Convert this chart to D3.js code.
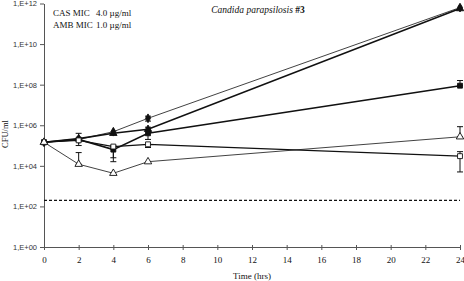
<!DOCTYPE html>
<html>
<head>
<meta charset="UTF-8">
<script src="https://cdn.jsdelivr.net/npm/d3@7"></script>
<style>
  body { margin: 0; background: #fff; }
  .serif { font-family: 'Liberation Serif', 'DejaVu Serif', serif; fill: #111; }
  .ylab { font-family: 'Liberation Sans', sans-serif; font-size: 7.5px; fill: #333; }
</style>
</head>
<body>
<div id="grafico"></div>
<script>
// time points (hrs)
var horas = [0, 2, 4, 6, 24];
var xTicks = [0, 2, 4, 6, 8, 10, 12, 14, 16, 18, 20, 22, 24];
var yTicks = [1, 1e2, 1e4, 1e6, 1e8, 1e10, 1e12];
var yTickLabels = ["1,E+00", "1,E+02", "1,E+04", "1,E+06", "1,E+08", "1,E+10", "1,E+12"];

// CFU/ml per series
var diamante = [1.45e5, 2.0e5, 4.8e5, 2.2e6, 6.3e11];
var triangulo = [1.45e5, 2.2e5, 4.0e5, 6.3e5, 5.6e11];
var cuadrado = [1.45e5, 2.0e5, 6.3e4, 4.0e5, 8.9e7];
var cuadradoAbierto = [1.45e5, 1.8e5, 8.9e4, 1.15e5, 3.0e4];
var trianguloAbierto = [1.45e5, 1.2e4, 4.3e3, 1.6e4, 2.7e5];

// error bars [low, high] (null = none)
var errDiamante = [null, null, null, [1.6e6, 2.8e6], null];
var errTriangulo = [null, [1.0e5, 4.0e5], null, null, null];
var errCuadrado = [null, null, [1.6e4, 1.0e5], [2.0e5, 8.0e5], [8.9e7, 1.6e8]];
var errCuadradoAbierto = [null, null, [2.5e4, 8.9e4], [8.0e4, 1.15e5], [5.0e3, 5.0e4]];
var errTrianguloAbierto = [null, [1.2e4, 4.5e4], null, null, [2.7e5, 8.5e5]];

var limite = 2.0e2;

var w = 464, h = 281;
var xScale = d3.scaleLinear().domain([0, 24]).range([44, 460]);
var yScale = d3.scaleLog().domain([1, 1e12]).range([247, 3.5]);

var svg = d3.select("#grafico").append("svg")
    .attr("width", w).attr("height", h);

// axes
var ejeX = svg.append("g").attr("transform", "translate(0,247)")
    .call(d3.axisBottom(xScale).tickValues(xTicks).tickSize(3).tickSizeOuter(0));
ejeX.selectAll("text").attr("class", "serif").attr("font-size", 9).attr("dy", "1.1em");
ejeX.selectAll(".tick line").attr("y1", -2).attr("stroke", "#555");
ejeX.select(".domain").attr("stroke", "#555");

var ejeY = svg.append("g").attr("transform", "translate(44,0)")
    .call(d3.axisLeft(yScale).tickValues(yTicks).tickSize(4).tickSizeOuter(0)
        .tickFormat(function(d, i){ return yTickLabels[i]; }));
ejeY.selectAll("text").attr("class", "ylab").attr("x", -7);
ejeY.selectAll(".tick line").attr("stroke", "#555");
ejeY.select(".domain").attr("stroke", "#555");

// detection limit
svg.append("line")
    .attr("x1", xScale(0)).attr("x2", xScale(24))
    .attr("y1", yScale(limite)).attr("y2", yScale(limite))
    .attr("stroke", "#111").attr("stroke-width", 1.2).attr("stroke-dasharray", "3,2");

var series = [
    {v: diamante, e: errDiamante, m: "diamond", fill: "#111", sw: 0.8},
    {v: triangulo, e: errTriangulo, m: "triangle", fill: "#111", sw: 1.6},
    {v: cuadrado, e: errCuadrado, m: "square", fill: "#111", sw: 1.6},
    {v: cuadradoAbierto, e: errCuadradoAbierto, m: "square", fill: "#fff", sw: 1.2},
    {v: trianguloAbierto, e: errTrianguloAbierto, m: "triangle", fill: "#fff", sw: 0.8}
];

var linea = d3.line()
    .x(function(d, i){ return xScale(horas[i]); })
    .y(function(d){ return yScale(d); });

var simbolos = {diamond: d3.symbolDiamond, triangle: d3.symbolTriangle, square: d3.symbolSquare};

series.forEach(function(s){
    svg.append("path").datum(s.v)
        .attr("d", linea).attr("fill", "none")
        .attr("stroke", "#111").attr("stroke-width", s.sw);
});

series.forEach(function(s){
    var g = svg.append("g");
    s.e.forEach(function(e, i){
        if (!e) return;
        var x = xScale(horas[i]);
        g.append("line").attr("x1", x).attr("x2", x)
            .attr("y1", yScale(e[0])).attr("y2", yScale(e[1]))
            .attr("stroke", "#111").attr("stroke-width", 1);
        [e[0], e[1]].forEach(function(v){
            g.append("line").attr("x1", x - 3).attr("x2", x + 3)
                .attr("y1", yScale(v)).attr("y2", yScale(v))
                .attr("stroke", "#111").attr("stroke-width", 1);
        });
    });
    g.selectAll("path").data(s.v).enter().append("path")
        .attr("d", d3.symbol().type(simbolos[s.m]).size(s.m == "diamond" ? 22 : 24))
        .attr("transform", function(d, i){ return "translate(" + xScale(horas[i]) + "," + yScale(d) + ")"; })
        .attr("fill", s.fill).attr("stroke", "#111").attr("stroke-width", 0.9);
});

// texts
svg.append("text").attr("class", "serif").attr("font-size", 8.5)
    .attr("transform", "translate(8,134) rotate(-90)").attr("text-anchor", "middle")
    .text("CFU/ml");
svg.append("text").attr("class", "serif").attr("font-size", 9)
    .attr("x", 252).attr("y", 279).attr("text-anchor", "middle").text("Time (hrs)");

var titulo = svg.append("text").attr("class", "serif").attr("font-size", 9.5)
    .attr("x", 258).attr("y", 13).attr("text-anchor", "middle");
titulo.append("tspan").attr("font-style", "italic").text("Candida parapsilosis");
titulo.append("tspan").attr("font-weight", "bold").text("  #3");

var leyenda = [["CAS MIC", "4.0 \u00b5g/ml"], ["AMB MIC", "1.0 \u00b5g/ml"]];
leyenda.forEach(function(l, i){
    svg.append("text").attr("class", "serif").attr("font-size", 9)
        .attr("x", 53).attr("y", 16 + i * 12).text(l[0]);
    svg.append("text").attr("class", "serif").attr("font-size", 9)
        .attr("x", 96).attr("y", 16 + i * 12).text(l[1]);
});
</script>
</body>
</html>
